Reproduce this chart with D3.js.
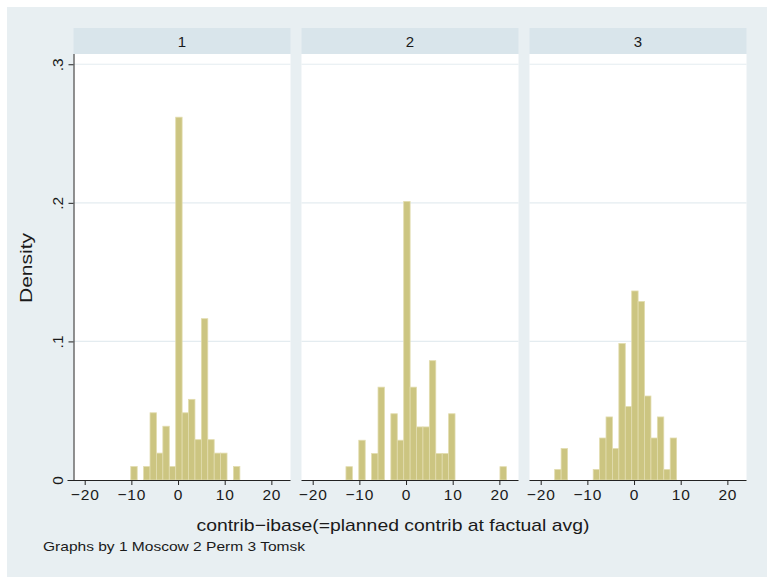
<!DOCTYPE html>
<html>
<head>
<meta charset="utf-8">
<script src="https://cdn.jsdelivr.net/npm/d3@7"></script>
<style>
  html, body { margin: 0; padding: 0; background: #ffffff; }
  svg { display: block; font-family: "Liberation Sans", Arial, Helvetica, sans-serif; }
</style>
</head>
<body>
<svg id="chart" width="767" height="577"></svg>
<script>
// ---------- data ----------
const panelLabels = ["1", "2", "3"];
const binStart = -17.0;
const binWidth = 1.375;
// densities per bin (28 common bins)
const density1 = [0, 0, 0, 0, 0, 0.0097, 0, 0.0097, 0.0485, 0.0194, 0.0388, 0.0097, 0.2618, 0.0485,
                  0.0582, 0.0291, 0.1164, 0.0291, 0.0194, 0.0194, 0, 0.0097, 0, 0, 0, 0, 0, 0];
const density2 = [0, 0, 0, 0.0096, 0, 0.0287, 0, 0.0191, 0.0670, 0, 0.0478, 0.0287, 0.2010, 0.0670,
                  0.0383, 0.0383, 0.0861, 0.0191, 0.0191, 0.0478, 0, 0, 0, 0, 0, 0, 0, 0.0096];
const density3 = [0.0076, 0.0227, 0, 0, 0, 0, 0.0076, 0.0303, 0.0455, 0.0227, 0.0985, 0.0530, 0.1364, 0.1288,
                  0.0606, 0.0303, 0.0455, 0.0076, 0.0303, 0, 0, 0, 0, 0, 0, 0, 0, 0];
const xTicks = [-20, -10, 0, 10, 20];
const yTicks = [0, 0.1, 0.2, 0.3];
const yTickLabels = ["0", ".1", ".2", ".3"];
const xTitle = "contrib\u2212ibase(=planned contrib at factual avg)";
const yTitle = "Density";
const note = "Graphs by 1 Moscow 2 Perm 3 Tomsk";

// ---------- layout ----------
const svg = d3.select("#chart");
const bg = "#e8eff2", headerFill = "#d9e5eb", gridColor = "#e4ecf0";
const barFill = "#ccc581", barStroke = "#e2dcae";

svg.append("rect").attr("x", 7).attr("y", 7).attr("width", 760).attr("height", 570).attr("fill", bg);

const panelLefts = [73.5, 301.5, 529.5];
const panelW = 217;
const plotTop = 54, plotBottom = 480, headerTop = 28;

const y = d3.scaleLinear().domain([0, 0.3074]).range([plotBottom, plotTop]);
const allDens = [density1, density2, density3];

allDens.forEach((dens, i) => {
  const left = panelLefts[i];
  const x = d3.scaleLinear().domain([-22.4, 24.1]).range([left, left + panelW]);
  const g = svg.append("g");

  // header
  g.append("rect").attr("x", left).attr("y", headerTop).attr("width", panelW)
    .attr("height", plotTop - headerTop).attr("fill", headerFill);
  g.append("text").attr("x", left + panelW / 2).attr("y", 46.5)
    .attr("text-anchor", "middle").attr("font-size", 15).attr("fill", "#1a1a1a")
    .text(panelLabels[i]);

  // plot region
  g.append("rect").attr("x", left).attr("y", plotTop).attr("width", panelW)
    .attr("height", plotBottom - plotTop).attr("fill", "#ffffff");

  // grid
  g.selectAll("line.grid").data(yTicks.slice(1)).enter().append("line")
    .attr("x1", left).attr("x2", left + panelW)
    .attr("y1", d => y(d)).attr("y2", d => y(d))
    .attr("stroke", gridColor).attr("stroke-width", 1.2);

  // bars
  const bins = dens.map((d, k) => ({ x0: binStart + k * binWidth, x1: binStart + (k + 1) * binWidth, d }))
    .filter(b => b.d > 0);
  g.selectAll("rect.bar").data(bins).enter().append("rect")
    .attr("x", b => x(b.x0)).attr("width", b => x(b.x1) - x(b.x0))
    .attr("y", b => y(b.d)).attr("height", b => y(0) - y(b.d))
    .attr("fill", barFill).attr("stroke", barStroke).attr("stroke-width", 0.8);

  // x axis
  const xa = d3.axisBottom(x).tickValues(xTicks).tickSize(5).tickPadding(4)
    .tickFormat(d => d < 0 ? "\u2212" + Math.abs(d) : String(d));
  const axg = g.append("g").attr("transform", `translate(0,${plotBottom})`).call(xa);
  axg.select(".domain").attr("d", `M${i === 0 ? left - 6 : left},0.5H${left + panelW}`).attr("stroke", "#222");
  axg.selectAll(".tick line").attr("stroke", "#222");
  axg.selectAll(".tick text").attr("font-size", 15.5).attr("fill", "#1a1a1a")
    .attr("letter-spacing", "0.8px")
    .attr("font-family", "Liberation Sans, Arial, sans-serif");

  if (i === 0) {
    const ya = d3.axisLeft(y).tickValues(yTicks).tickSize(5).tickFormat((d, j) => yTickLabels[j]);
    const ayg = g.append("g").attr("transform", `translate(${left},0)`).call(ya);
    ayg.select(".domain").attr("d", `M0.5,${plotTop}V${plotBottom}`).attr("stroke", "#222");
    ayg.selectAll(".tick line").attr("stroke", "#222");
    ayg.selectAll(".tick text")
      .attr("font-size", 15.5).attr("fill", "#1a1a1a")
      .attr("font-family", "Liberation Sans, Arial, sans-serif")
      .attr("x", 0).attr("dy", null).attr("y", 0)
      .attr("text-anchor", "middle")
      .attr("transform", "translate(-11,0) rotate(-90)");
  }
});

// titles
svg.append("text").attr("transform", "translate(32,268) rotate(-90)")
  .attr("text-anchor", "middle").attr("font-size", 17).attr("fill", "#1a1a1a")
  .attr("textLength", 70).attr("lengthAdjust", "spacingAndGlyphs").text(yTitle);
svg.append("text").attr("x", 393).attr("y", 531)
  .attr("text-anchor", "middle").attr("font-size", 17).attr("fill", "#1a1a1a")
  .attr("textLength", 393).attr("lengthAdjust", "spacingAndGlyphs").text(xTitle);
svg.append("text").attr("x", 43).attr("y", 551)
  .attr("font-size", 13).attr("fill", "#1a1a1a")
  .attr("textLength", 262).attr("lengthAdjust", "spacingAndGlyphs").text(note);
</script>
</body>
</html>
